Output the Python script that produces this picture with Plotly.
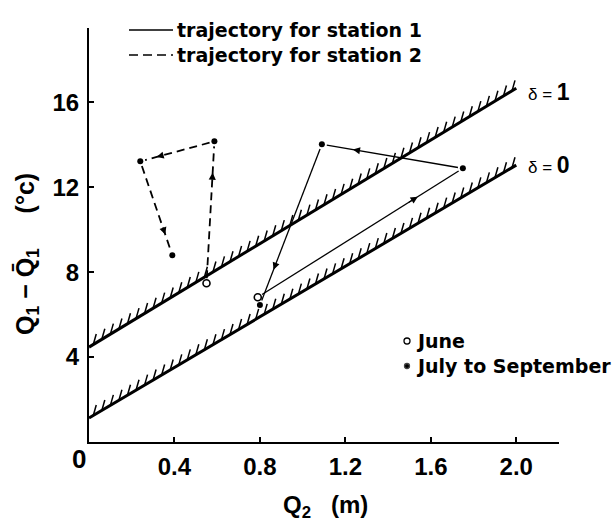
import numpy as np
import plotly.graph_objects as go

# ---- data ----
boundary_x = [0.0, 2.0]
delta0_y = [1.13, 13.04]
delta1_y = [4.47, 16.66]

st1_x = [0.79, 1.75, 1.09, 0.80]
st1_y = [6.82, 12.89, 14.02, 6.45]
st2_x = [0.55, 0.587, 0.24, 0.39]
st2_y = [7.48, 14.16, 13.22, 8.80]

x_ticks = [0.4, 0.8, 1.2, 1.6, 2.0]
x_ticktext = ["0.4", "0.8", "1.2", "1.6", "2.0"]
y_ticks = [4, 8, 12, 16]
y_ticktext = ["4", "8", "12", "16"]

# ---- layout geometry ----
W, H = 613, 522
ML, MR, MT, MB = 89, 54, 28, 80
XR = [0, 2.2]
YR = [0, 19.5]
pw = W - ML - MR
ph = H - MT - MB
sx = pw / (XR[1] - XR[0])
sy = ph / (YR[1] - YR[0])

FONT = "Liberation Sans, Arial, sans-serif"
LFONT = "DejaVu Sans, sans-serif"
fig = go.Figure()

# boundary lines with hatching on the upper side
def hatch(xs, ys):
    hx, hy = [], []
    slope = (ys[1] - ys[0]) / (xs[1] - xs[0])
    for x in np.arange(xs[0] + 0.02, xs[1] - 0.005, 0.04):
        y = ys[0] + slope * (x - xs[0])
        hx += [x, x + 3.0 / sx, None]
        hy += [y, y + 10.5 / sy, None]
    return hx, hy

for ys in (delta0_y, delta1_y):
    hx, hy = hatch(boundary_x, ys)
    fig.add_trace(go.Scatter(x=hx, y=hy, mode="lines",
                             line=dict(color="black", width=1.5),
                             showlegend=False, hoverinfo="skip"))
    fig.add_trace(go.Scatter(x=boundary_x, y=ys, mode="lines",
                             line=dict(color="black", width=3),
                             showlegend=False, hoverinfo="skip"))

# trajectories (segment ends trimmed a few px, as in the figure)
def trimmed(xs, ys, gap=5.0):
    tx, ty = [], []
    for i in range(len(xs) - 1):
        x0, y0, x1, y1 = xs[i], ys[i], xs[i + 1], ys[i + 1]
        L = (((x1 - x0) * sx) ** 2 + ((y1 - y0) * sy) ** 2) ** 0.5
        f = gap / L
        tx += [x0 + (x1 - x0) * f, x1 - (x1 - x0) * f, None]
        ty += [y0 + (y1 - y0) * f, y1 - (y1 - y0) * f, None]
    return tx, ty

tx, ty = trimmed(st1_x, st1_y)
fig.add_trace(go.Scatter(x=tx, y=ty, mode="lines",
                         line=dict(color="black", width=1.3),
                         showlegend=False, hoverinfo="skip"))
tx, ty = trimmed(st2_x, st2_y)
fig.add_trace(go.Scatter(x=tx, y=ty, mode="lines",
                         line=dict(color="black", width=1.8, dash="8px,5px"),
                         showlegend=False, hoverinfo="skip"))

# arrowheads along segments
def add_arrows(xs, ys, frac=0.78):
    for i in range(len(xs) - 1):
        x0, y0, x1, y1 = xs[i], ys[i], xs[i + 1], ys[i + 1]
        xm = x0 + (x1 - x0) * frac
        ym = y0 + (y1 - y0) * frac
        xa = x0 + (x1 - x0) * (frac - 0.05)
        ya = y0 + (y1 - y0) * (frac - 0.05)
        fig.add_annotation(x=xm, y=ym, ax=xa, ay=ya, xref="x", yref="y",
                           axref="x", ayref="y", text="", showarrow=True,
                           arrowhead=2, arrowsize=1.1, arrowwidth=1.3,
                           arrowcolor="black", standoff=0)

add_arrows(st1_x, st1_y)
add_arrows(st2_x, st2_y)

# markers: first point June (open), others July-September (filled)
for xs, ys in ((st1_x, st1_y), (st2_x, st2_y)):
    fig.add_trace(go.Scatter(x=xs[:1], y=ys[:1], mode="markers",
                             marker=dict(symbol="circle-open", size=7, color="black",
                                         line=dict(width=1.6)),
                             showlegend=False, hoverinfo="skip"))
    fig.add_trace(go.Scatter(x=xs[1:], y=ys[1:], mode="markers",
                             marker=dict(symbol="circle", size=6, color="black"),
                             showlegend=False, hoverinfo="skip"))

def px2paper(px, py):
    return (px - ML) / pw, (H - MB - py) / ph

# top legend
for py, dash, label in ((30, "solid", "trajectory for station 1"),
                        (55, "9px,5px", "trajectory for station 2")):
    x0, y0 = px2paper(129, py)
    x1, _ = px2paper(173, py)
    fig.add_shape(type="line", xref="paper", yref="paper", x0=x0, x1=x1, y0=y0, y1=y0,
                  line=dict(color="black", width=1.6, dash=dash))
    tx0, _ = px2paper(175, py)
    fig.add_annotation(x=tx0, y=y0, xref="paper", yref="paper", text=label,
                       showarrow=False, xanchor="left", yanchor="middle",
                       font=dict(family=LFONT, size=19, color="black", weight="bold"))

# right legend (June / July to September)
for py, sym, sz, label in ((341, "circle-open", 6, "June"),
                           (366, "circle", 5, "July to September")):
    mx, my = px2paper(407, py)
    fig.add_trace(go.Scatter(x=[XR[0] + mx * (XR[1] - XR[0])],
                             y=[YR[0] + my * (YR[1] - YR[0])], mode="markers",
                             marker=dict(symbol=sym, size=sz, color="black", line=dict(width=1.3)),
                             showlegend=False, hoverinfo="skip", cliponaxis=False))
    tx0, _ = px2paper(414, py)
    fig.add_annotation(x=tx0, y=my, xref="paper", yref="paper", text=label,
                       showarrow=False, xanchor="left", yanchor="middle",
                       font=dict(family=LFONT, size=19, color="black", weight="bold"))

# delta labels at the right end of the boundary lines
for ys, lab, ysh in ((delta1_y, "1", -4), (delta0_y, "0", 0)):
    fig.add_annotation(x=boundary_x[1], y=ys[1], xref="x", yref="y",
                       text="<span style='font-size:17px;font-weight:normal'>δ = </span>" + lab,
                       showarrow=False, xanchor="left", yanchor="middle",
                       xshift=10, yshift=ysh,
                       font=dict(family=FONT, size=23, color="black", weight="bold"))

# corner zero
x0, y0 = px2paper(79, 459)
fig.add_annotation(x=x0, y=y0, xref="paper", yref="paper", text="0", showarrow=False,
                   xanchor="center", yanchor="middle",
                   font=dict(family=FONT, size=26, color="black", weight="bold"))

# axis titles
x0, y0 = px2paper(27, 254)
fig.add_annotation(x=x0, y=y0, xref="paper", yref="paper",
                   text="Q<sub>1</sub> − Q\u0304<sub>1</sub>     (°c)",
                   textangle=-90, showarrow=False, xanchor="center", yanchor="middle",
                   font=dict(family=FONT, size=25, color="black", weight="bold"))
x0, y0 = px2paper(325, 506)
fig.add_annotation(x=x0, y=y0, xref="paper", yref="paper",
                   text="Q<sub>2</sub>   (m)", showarrow=False,
                   xanchor="center", yanchor="middle",
                   font=dict(family=FONT, size=24, color="black", weight="bold"))

fig.update_layout(
    width=W, height=H, margin=dict(l=ML, r=MR, t=MT, b=MB),
    paper_bgcolor="white", plot_bgcolor="white", showlegend=False,
    xaxis=dict(range=XR, showgrid=False, zeroline=False, showline=True,
               linecolor="black", linewidth=2, ticks="inside", ticklen=5,
               tickwidth=1.5, tickcolor="black", tickvals=x_ticks,
               ticktext=x_ticktext, ticklabelstandoff=2,
               tickfont=dict(family=FONT, size=24, color="black", weight="bold")),
    yaxis=dict(range=YR, showgrid=False, zeroline=False, showline=True,
               linecolor="black", linewidth=2, ticks="inside", ticklen=5,
               tickwidth=1.5, tickcolor="black", tickvals=y_ticks,
               ticktext=y_ticktext, ticklabelstandoff=3,
               tickfont=dict(family=FONT, size=24, color="black", weight="bold")),
)

fig.write_html("out.html")
